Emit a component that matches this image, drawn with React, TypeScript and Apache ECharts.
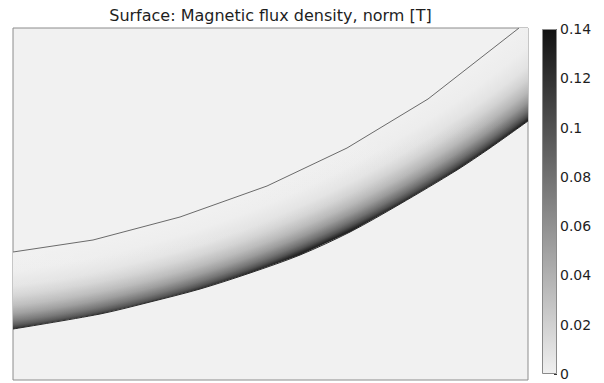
import React, { useEffect, useRef } from "react";
import * as echarts from "echarts";

const TITLE = "Surface: Magnetic flux density, norm [T]";

// Inner boundary of the domain (mesh polyline), mm
const innerBoundaryX = [0, 8.0, 16.7, 25.4, 33.4, 41.5, 50.6];
const innerBoundaryY = [12.8, 14.0, 16.3, 19.4, 23.2, 28.1, 35.2];

// Outer boundary of the domain, mm
const outerBoundaryX = [0, 8.7, 13.7, 18.7, 23.7, 28.7, 33.7, 38.7, 44.4, 47.7, 51.5];
const outerBoundaryY = [5.1, 6.6, 7.8, 9.1, 10.7, 12.5, 14.8, 17.6, 21.0, 23.2, 25.9];

// Centre of the circular boundaries, mm
const arcCenter = [-12.1, 109.2];

// Field across the band: radius (mm) and |B| (T)
const fieldRadius = [97.1, 99.0, 100.5, 101.5, 102.5, 103.3, 104.0, 104.4, 104.8];
const fieldB = [0, 0.002, 0.008, 0.019, 0.036, 0.057, 0.084, 0.105, 0.135];

// Colour range
const B_MIN = 0;
const B_MAX = 0.14;
const B_STEP = 0.02;
const X_MAX = 51.5;
const Y_MAX = 35.2;

function grayOf(v: number): string {
  const t = Math.max(0, Math.min(1, (v - B_MIN) / (B_MAX - B_MIN)));
  const L = Math.round(240 + (18 - 240) * t);
  return `rgb(${L},${L},${L})`;
}

export default function App() {
  const ref = useRef<HTMLDivElement>(null);

  useEffect(() => {
    document.body.style.margin = "0";
    if (!ref.current) return;
    const chart = echarts.init(ref.current, null, { renderer: "svg" });

    const rMax = Math.max(...fieldRadius);
    const stops = [{ offset: 0, color: grayOf(fieldB[0]) }].concat(
      fieldRadius.map((r, i) => ({ offset: r / rMax, color: grayOf(fieldB[i]) }))
    );

    const outerPts = outerBoundaryX.map((x, i) => [x, outerBoundaryY[i]]);
    const innerPts = innerBoundaryX.map((x, i) => [x, innerBoundaryY[i]]);

    const option: any = {
      animation: false,
      backgroundColor: "#ffffff",
      textStyle: { fontFamily: "DejaVu Sans" },
      graphic: [
        {
          type: "text",
          x: 270.5,
          y: 15,
          style: {
            text: TITLE,
            fill: "#1e1e1e",
            font: "16px 'DejaVu Sans'",
            align: "center",
            verticalAlign: "middle",
          },
        },
      ],
      grid: [
        {
          left: 13,
          top: 28,
          width: 515,
          height: 352,
          show: true,
          backgroundColor: "#f1f1f1",
          borderColor: "#8c8c8c",
          borderWidth: 1,
        },
        {
          left: 542,
          top: 29,
          width: 15,
          height: 345,
        },
      ],
      xAxis: [
        { type: "value", gridIndex: 0, min: 0, max: X_MAX, show: false },
        { type: "category", gridIndex: 1, data: [""], show: false },
      ],
      yAxis: [
        { type: "value", gridIndex: 0, min: 0, max: Y_MAX, show: false },
        {
          type: "value",
          gridIndex: 1,
          min: B_MIN,
          max: B_MAX,
          interval: B_STEP,
          position: "right",
          axisLine: { show: false },
          splitLine: { show: false },
          axisTick: { show: true, inside: true, length: 3, lineStyle: { color: "#333" } },
          axisLabel: {
            fontSize: 14,
            color: "#1e1e1e",
            margin: 3,
            fontFamily: "DejaVu Sans",
            formatter: (v: number) => String(+v.toFixed(2)),
          },
        },
      ],
      series: [
        {
          type: "custom",
          xAxisIndex: 0,
          yAxisIndex: 0,
          data: [[0, 0]],
          z: 2,
          renderItem: (params: any, api: any) => {
            const pts = outerPts
              .concat([[X_MAX, Y_MAX]])
              .map((p) => api.coord(p))
              .concat(innerPts.slice().reverse().map((p) => api.coord(p)));
            const c = api.coord(arcCenter);
            const rPx = api.size([rMax, 0])[0];
            const x0 = api.coord([0, 0])[0];
            const x1 = api.coord([X_MAX, 0])[0];
            return {
              type: "group",
              children: [
                {
                  type: "polygon",
                  shape: { points: pts },
                  style: {
                    fill: new echarts.graphic.RadialGradient(c[0], c[1], rPx, stops, true),
                    stroke: "none",
                  },
                },
                {
                  type: "polygon",
                  shape: { points: pts },
                  style: {
                    fill: new echarts.graphic.LinearGradient(
                      x0, 0, x1, 0,
                      [
                        { offset: 0, color: "rgba(255,255,255,0.1)" },
                        { offset: 0.6, color: "rgba(255,255,255,0.04)" },
                        { offset: 1, color: "rgba(255,255,255,0)" },
                      ],
                      true
                    ),
                    stroke: "none",
                  },
                },
              ],
            };
          },
        },
        {
          type: "line",
          xAxisIndex: 0,
          yAxisIndex: 0,
          data: innerPts,
          symbol: "none",
          z: 3,
          lineStyle: { color: "#6a6a6a", width: 1 },
        },
        {
          type: "line",
          xAxisIndex: 0,
          yAxisIndex: 0,
          data: outerPts,
          symbol: "none",
          smooth: 0.3,
          z: 3,
          lineStyle: { color: "#2a2a2a", width: 1 },
        },
        {
          type: "bar",
          xAxisIndex: 1,
          yAxisIndex: 1,
          data: [B_MAX],
          barWidth: "100%",
          itemStyle: {
            color: new echarts.graphic.LinearGradient(0, 0, 0, 1, [
              { offset: 0, color: grayOf(B_MAX) },
              { offset: 1, color: grayOf(B_MIN) },
            ]),
            borderColor: "#8a8a8a",
            borderWidth: 1,
          },
        },
      ],
    };

    chart.setOption(option);
    return () => chart.dispose();
  }, []);

  return <div ref={ref} style={{ width: 604, height: 383 }} />;
}
